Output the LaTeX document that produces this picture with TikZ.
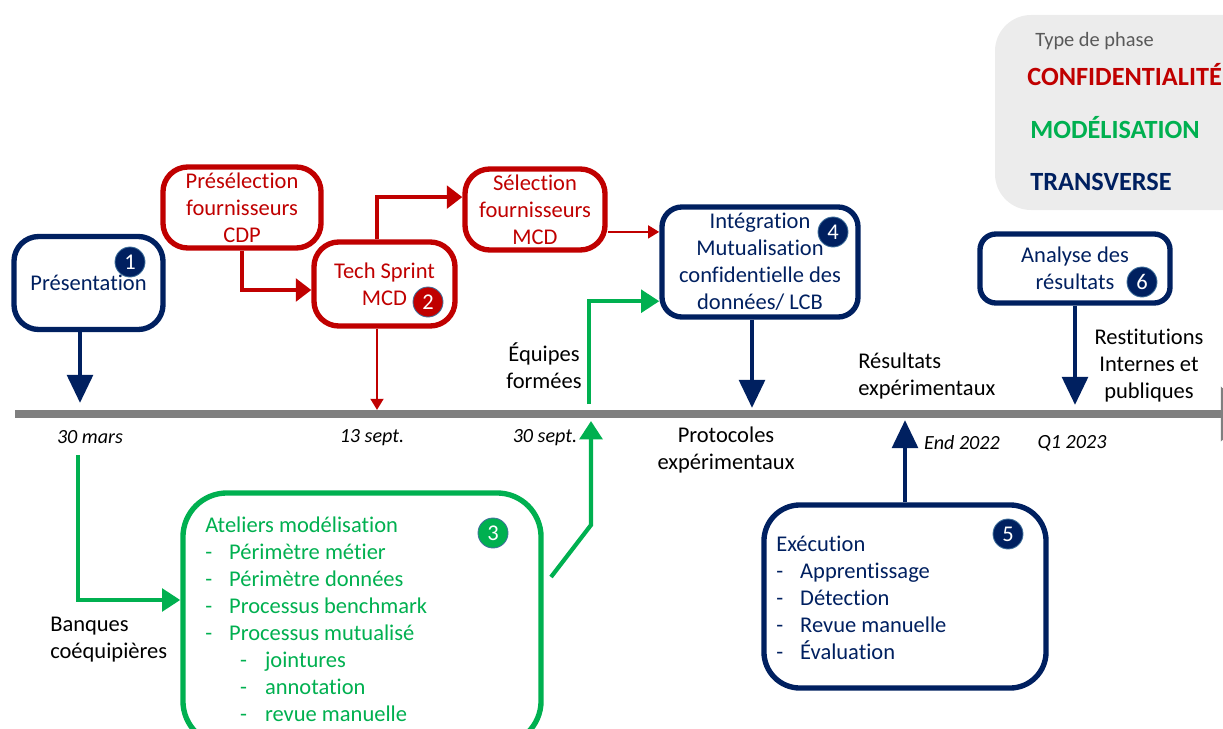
\documentclass[tikz,border=0pt]{standalone}
\usepackage{fontspec}
\setmainfont{Carlito}[Ligatures={NoCommon}]
\usetikzlibrary{arrows.meta}
\definecolor{conf}{HTML}{C00000}
\definecolor{model}{HTML}{00B050}
\definecolor{trans}{HTML}{002060}
\definecolor{tline}{HTML}{7F7F7F}
\definecolor{badgeline}{HTML}{41719C}
\newcommand{\txt}{\fontsize{16}{19.2}\selectfont}
\newcommand{\datefont}{\fontsize{14.3}{17}\selectfont\itshape}
\newcommand{\legfont}{\fontsize{18.7}{21}\selectfont\bfseries}
\newcommand{\bul}{\makebox[17pt][l]{-}}
\newcommand{\subbul}{\hspace*{24.8pt}\makebox[17.7pt][l]{-}}

\tikzset{
  phase/.style={draw, fill=white, line width=3.8pt, rounded corners=0.62cm, align=center, font=\txt, inner sep=0pt},
  badge/.style={circle, fill=#1, draw=badgeline, line width=0.6pt, minimum size=0.75cm, inner sep=0pt, text=white, font=\fontsize{16}{16}\selectfont},
  lbl/.style={font=\txt, align=center, inner sep=0pt},
  datelbl/.style={font=\datefont, inner sep=0pt},
  navyarrow/.style={draw=trans, line width=3.5pt, -{Triangle[length=20pt,width=18pt]}},
  redarrow/.style={draw=conf, line width=2.8pt, -{Triangle[length=11pt,width=16pt]}},
  redthin/.style={draw=conf, line width=2pt, -{Triangle[length=8pt,width=9pt]}},
  greenarrow/.style={draw=model, line width=3pt, -{Triangle[length=13pt,width=16pt]}},
}

\begin{document}
\begin{tikzpicture}[x=0.025cm, y=-0.025cm]
\useasboundingbox (0,0) rectangle (1223,729);
\clip (0,0) rectangle (1223,729);

% legende
\fill[gray!15, rounded corners=0.9cm] (995,15) rectangle (1280,210);
\node[anchor=west, inner sep=0pt, text=black!65, font=\fontsize{14.5}{17}\selectfont] at (1035,41) (legtitle) {Type de phase};
\node[anchor=west, inner sep=0pt, text=conf, font=\legfont] at (1027,75) (legconf) {CONFIDENTIALITÉ};
\node[anchor=west, inner sep=0pt, text=model, font=\legfont] at (1030,128) (legmodel) {MODÉLISATION};
\node[anchor=west, inner sep=0pt, text=trans, font=\legfont] at (1030,182) (legtrans) {TRANSVERSE};

% frise
\coordinate (tlstart) at (15,414);
\coordinate (tlend) at (1249,414);
\draw[draw=tline, line width=5.7pt, -{Triangle[length=20pt,width=38pt]}] (tlstart) -- (tlend);

\node[datelbl] at (90,437) (mars) {30 mars};
\node[datelbl] at (372,438) (sept13) {13 sept.};
\node[datelbl] at (545,438) (sept30) {30 sept.};
\node[datelbl] at (962,443) (end22) {End 2022};
\node[datelbl] at (1072,443) (q123) {Q1 2023};

% phases
\node[phase, draw=trans, text=trans, minimum width=3.725cm, minimum height=2.325cm] at (88.5,283) (pres) {Présentation};
\node[badge=trans] at (130,262) (b1) {1};

\node[phase, draw=conf, text=conf, minimum width=3.95cm, minimum height=2.025cm] at (242,207.5) (presel) {Présélection\\fournisseurs\\CDP};

\node[phase, draw=conf, text=conf, minimum width=3.525cm, minimum height=2.1cm] at (384.5,284) (tech) {Tech Sprint\\MCD};
\node[badge=conf] at (428,302) (b2) {2};

\node[phase, draw=conf, text=conf, minimum width=3.5cm, minimum height=2.025cm] at (535,209.5) (sel) {Sélection\\fournisseurs\\MCD};

\node[phase, draw=trans, text=trans, rounded corners=0.5cm, minimum width=4.9cm, minimum height=2.75cm] at (760,262) (integ) {Intégration\\Mutualisation\\confidentielle des\\données/ LCB};
\node[badge=trans] at (833,232) (b4) {4};

\node[phase, draw=trans, text=trans, rounded corners=0.4cm, minimum width=4.75cm, minimum height=1.725cm] at (1075,268.5) (analyse) {Analyse des\\résultats};
\node[badge=trans] at (1142,282) (b6) {6};

\node[phase, draw=model, rounded corners=1.1cm, minimum width=8.95cm, minimum height=6.3cm] at (362,619) (ateliers) {};
\node[anchor=north west, align=left, text=model, font=\txt, inner sep=0pt] at (205,517) (ateltxt) {Ateliers modélisation\\
\bul Périmètre métier\\
\bul Périmètre données\\
\bul Processus benchmark\\
\bul Processus mutualisé\\
\subbul jointures\\
\subbul annotation\\
\subbul revue manuelle};
\node[badge=model] at (493,533) (b3) {3};

\node[phase, draw=trans, rounded corners=0.9cm, minimum width=7.05cm, minimum height=4.575cm] at (905,596.5) (exec) {};
\node[anchor=north west, align=left, text=trans, font=\txt, inner sep=0pt] at (776,535.5) (exectxt) {Exécution\\
\bul Apprentissage\\
\bul Détection\\
\bul Revue manuelle\\
\bul Évaluation};
\node[badge=trans] at (1008,534) (b5) {5};

% textes libres
\node[lbl] at (544,366) (equipes) {Équipes\\formées};
\node[lbl] at (726,450) (protocoles) {Protocoles\\expérimentaux};
\node[lbl, anchor=west, align=left] at (858,375.5) (resultats) {Résultats\\expérimentaux};
\node[lbl] at (1149,366) (restit) {Restitutions\\Internes et\\publiques};
\node[lbl, anchor=west, align=left] at (50,640) (banques) {Banques\\coéquipières};

% liens
\coordinate (marsin) at (80,403);
\draw[navyarrow] (pres.south -| marsin) -- (marsin);

\draw[redarrow] (presel.south) |- ([yshift=-0.15cm]tech.west);
\draw[redarrow] ([xshift=-0.19cm]tech.north) |- ([yshift=0.31cm]sel.west);
\coordinate (septA) at (377,410);
\draw[redthin] (tech.south -| septA) -- (septA);
\draw[redthin] ([yshift=-0.56cm]sel.east) -- ([yshift=-0.56cm]sel.east -| integ.west);

\coordinate (septB) at (589,404);
\draw[greenarrow] (septB) |- ([yshift=-0.98cm]integ.west);

\coordinate (protoin) at (752,408);
\draw[navyarrow] (integ.south -| protoin) -- (protoin);

\coordinate (atelout) at (551,577);
\coordinate (kink) at (591,525);
\coordinate (septC) at (591,421);
\draw[greenarrow] (atelout) -- (kink) -- (septC);

\coordinate (marsout) at (78,455);
\draw[greenarrow] (marsout) |- ([yshift=0.475cm]ateliers.west);

\coordinate (endin) at (905,420);
\draw[navyarrow] (exec.north) -- (endin);

\coordinate (q1in) at (1075,405);
\draw[navyarrow] (analyse.south) -- (q1in);

\end{tikzpicture}
\end{document}
